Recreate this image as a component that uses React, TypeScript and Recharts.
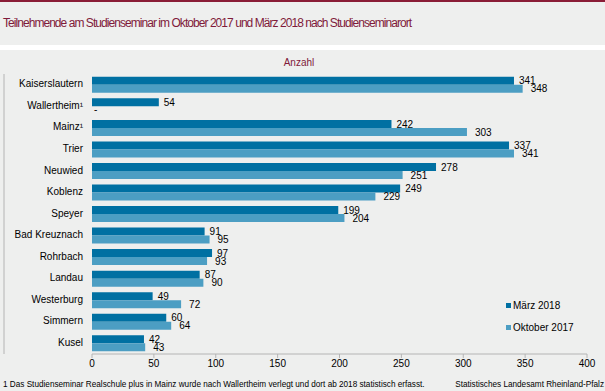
import { BarChart, Bar, XAxis, YAxis, LabelList } from 'recharts';

const CATEGORIES = ['Kaiserslautern', 'Wallertheim¹', 'Mainz¹', 'Trier', 'Neuwied', 'Koblenz', 'Speyer', 'Bad Kreuznach', 'Rohrbach', 'Landau', 'Westerburg', 'Simmern', 'Kusel'];
const MAERZ_2018 = [341, 54, 242, 337, 278, 249, 199, 91, 97, 87, 49, 60, 42];
const OKTOBER_2017 = [348, null, 303, 341, 251, 229, 204, 95, 93, 90, 72, 64, 43];
const X_TICKS = [0, 50, 100, 150, 200, 250, 300, 350, 400];
const BOUNDARY_TICKS = [0, 1, 2, 3, 4, 5, 6, 7, 8, 9, 10, 11, 12, 13];

const DARK = '#0070a2';
const LIGHT = '#4c9ec3';
const RED = '#7f1a3a';
const FONT = '"Liberation Sans", Arial, sans-serif';

const data = CATEGORIES.map((name, i) => ({ name, maerz: MAERZ_2018[i], oktober: OKTOBER_2017[i] }));

// März label; also marks a missing Oktober value with "-" in the slot below
function MaerzLabel(props: any) {
  const { x, y, width, height, value, index } = props;
  const h = Number(height);
  const missing = OKTOBER_2017[index] == null;
  return (
    <g fontSize={10} fill="#000" fontFamily={FONT}>
      <text x={Number(x) + Number(width) + 5} y={Number(y) + h / 2 + 1} dominantBaseline="middle">{value}</text>
      {missing && (
        <text x={Number(x) + 2} y={Number(y) + h * 1.5} dominantBaseline="middle">-</text>
      )}
    </g>
  );
}

function OktoberLabel(props: any) {
  const { x, y, width, height, value } = props;
  if (value == null) return null;
  return (
    <text x={Number(x) + Number(width) + 8} y={Number(y) + Number(height) / 2 + 1} fontSize={10} fill="#000" dominantBaseline="middle" fontFamily={FONT}>
      {value}
    </text>
  );
}

function CategoryTick(props: any) {
  const { x, y, payload } = props;
  return (
    <text x={x} y={y} textAnchor="end" dominantBaseline="middle" fontSize={10} fill="#000" fontFamily={FONT}>
      {payload.value}
    </text>
  );
}

const LEGEND_ITEMS = [
  { label: 'März 2018', color: DARK },
  { label: 'Oktober 2017', color: LIGHT },
];

export default function App() {
  return (
    <div style={{ position: 'absolute', left: 0, top: 0, width: 605, height: 391, background: '#fff', fontFamily: FONT, overflow: 'hidden' }}>
      <div style={{ position: 'absolute', left: 0, top: 0, width: 605, height: 2, background: '#8a1c36' }} />
      <div style={{ position: 'absolute', left: 0, top: 2, width: 605, height: 43, background: '#eeefee' }} />
      <div style={{ position: 'absolute', left: 3, top: 16, fontSize: 12, color: RED, whiteSpace: 'nowrap', letterSpacing: -0.95 }}>
        Teilnehmende am Studienseminar im Oktober 2017 und März 2018 nach Studienseminarort
      </div>
      <div style={{ position: 'absolute', left: 0, top: 50, width: 605, height: 341, background: '#eeefee' }} />
      <div style={{ position: 'absolute', left: 0, top: 57, width: 598, textAlign: 'center', fontSize: 10, color: RED }}>Anzahl</div>
      <div style={{ position: 'absolute', left: 0, top: 0 }}>
        <BarChart
          width={605}
          height={391}
          data={data}
          layout="vertical"
          margin={{ top: 74, right: 18, bottom: 17, left: 0 }}
          barCategoryGap="13%"
          barGap={0}
        >
          <XAxis
            type="number"
            domain={[0, 400]}
            ticks={X_TICKS}
            tick={{ fill: '#000', fontSize: 10, fontFamily: FONT }}
            tickSize={4}
            stroke="#b4b4b4"
            height={20}
            interval={0}
          />
          <YAxis
            yAxisId="grid"
            type="number"
            domain={[0, 13]}
            ticks={BOUNDARY_TICKS}
            tick={false}
            tickSize={4}
            stroke="#b4b4b4"
            width={4}
            interval={0}
          />
          <YAxis
            type="category"
            dataKey="name"
            width={88}
            axisLine={false}
            tickLine={false}
            tickMargin={3}
            tick={<CategoryTick />}
            interval={0}
          />
          <Bar dataKey="maerz" name="März 2018" fill={DARK} isAnimationActive={false}>
            <LabelList dataKey="maerz" content={<MaerzLabel />} />
          </Bar>
          <Bar dataKey="oktober" name="Oktober 2017" fill={LIGHT} isAnimationActive={false}>
            <LabelList dataKey="oktober" content={<OktoberLabel />} />
          </Bar>
        </BarChart>
      </div>
      <div style={{ position: 'absolute', left: 506, top: 294, fontSize: 10 }}>
        {LEGEND_ITEMS.map((it) => (
          <div key={it.label} style={{ display: 'flex', alignItems: 'center', height: 22 }}>
            <span style={{ width: 5, height: 5, background: it.color, marginRight: 2 }} />
            <span>{it.label}</span>
          </div>
        ))}
      </div>
      <div style={{ position: 'absolute', left: 3, top: 380, fontSize: 8.2, color: '#000', whiteSpace: 'nowrap' }}>
        1 Das Studienseminar Realschule plus in Mainz wurde nach Wallertheim verlegt und dort ab 2018 statistisch erfasst.
      </div>
      <div style={{ position: 'absolute', right: 1, top: 380, fontSize: 8.2, color: '#000', whiteSpace: 'nowrap' }}>
        Statistisches Landesamt Rheinland-Pfalz
      </div>
    </div>
  );
}
